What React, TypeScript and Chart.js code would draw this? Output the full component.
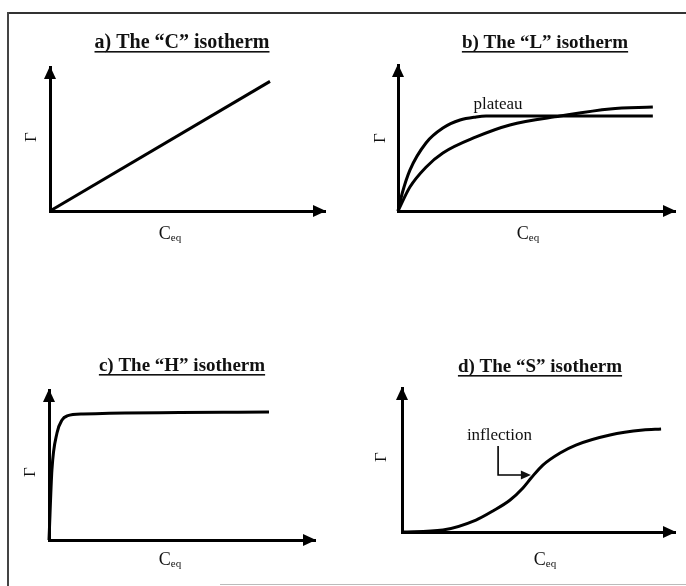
import React, { useEffect, useRef } from "react";
import { Chart, registerables } from "chart.js";

Chart.register(...registerables);

const SERIF = '"Liberation Serif", "Times New Roman", serif';

// ---- data (x = C_eq, y = Γ, arbitrary units 0..100) ----
// a) "C" isotherm
const cX = [0, 80];
const cY = [0, 90];
// b) "L" isotherm: curve with plateau, and gradual curve
const lPlateauX = [0, 1.5, 4.3, 10.1, 16.2, 22.4, 28.2, 31.8, 60, 92];
const lPlateauY = [0, 12, 28, 46.6, 56.8, 62.3, 64.4, 65, 65, 65];
const lGradualX = [0, 4.3, 10.1, 16.2, 28.2, 40.4, 58.5, 76.5, 92];
const lGradualY = [0, 16.4, 30, 39.7, 50.7, 58.9, 65, 69.9, 71.2];
// c) "H" isotherm
const hX = [0, 1.1, 3.0, 4.9, 6.8, 12.8, 82.7];
const hY = [0, 46.7, 71.3, 80, 82.7, 84, 85.3];
// d) "S" isotherm
const sX = [0, 15, 27.1, 33.3, 39.6, 44.3, 47.3, 51.6, 57.9, 63.7, 76.2, 88.3, 94.9];
const sY = [0, 1.4, 8.3, 14.6, 22.2, 30.6, 37.5, 46.5, 54.9, 60.4, 67.4, 70.8, 71.5];

const titles = [
  "a) The \u201CC\u201D isotherm",
  "b) The \u201CL\u201D isotherm",
  "c) The \u201CH\u201D isotherm",
  "d) The \u201CS\u201D isotherm",
];
const yLabel = "\u0393";
const xLabelMain = "C";
const xLabelSub = "eq";
const plateauLabel = "plateau";
const inflectionLabel = "inflection";

type Note = { text: string; x: number; y: number };
type Arrow = { x: number; y1: number; y2: number; x2: number };

type Panel = {
  canvas: { l: number; t: number; w: number; h: number };
  area: { l: number; t: number; r: number; b: number };
  title: string;
  titleSize: number;
  titleX: number;
  titleY: number;
  gamma: { x: number; y: number };
  ceq: { x: number; y: number };
  series: { xs: number[]; ys: number[] }[];
  notes: Note[];
  arrow?: Arrow;
};

const panels: Panel[] = [
  {
    canvas: { l: 10, t: 15, w: 333, h: 270 },
    area: { l: 50, t: 67, r: 325, b: 211 },
    title: titles[0],
    titleSize: 20,
    titleX: 182,
    titleY: 48,
    gamma: { x: 32, y: 137 },
    ceq: { x: 170, y: 239 },
    series: [{ xs: cX, ys: cY }],
    notes: [],
  },
  {
    canvas: { l: 343, t: 15, w: 343, h: 270 },
    area: { l: 398, t: 65, r: 675, b: 211 },
    title: titles[1],
    titleSize: 19,
    titleX: 545,
    titleY: 48,
    gamma: { x: 381, y: 138 },
    ceq: { x: 528, y: 239 },
    series: [
      { xs: lPlateauX, ys: lPlateauY },
      { xs: lGradualX, ys: lGradualY },
    ],
    notes: [{ text: plateauLabel, x: 36.1, y: 73 }],
  },
  {
    canvas: { l: 10, t: 300, w: 333, h: 280 },
    area: { l: 49, t: 390, r: 315, b: 540 },
    title: titles[2],
    titleSize: 19,
    titleX: 182,
    titleY: 371,
    gamma: { x: 31, y: 472 },
    ceq: { x: 170, y: 565 },
    series: [{ xs: hX, ys: hY }],
    notes: [],
  },
  {
    canvas: { l: 343, t: 300, w: 343, h: 280 },
    area: { l: 402, t: 388, r: 675, b: 532 },
    title: titles[3],
    titleSize: 19,
    titleX: 540,
    titleY: 372,
    gamma: { x: 382, y: 457 },
    ceq: { x: 545, y: 565 },
    series: [{ xs: sX, ys: sY }],
    notes: [{ text: inflectionLabel, x: 35.7, y: 66.7 }],
    arrow: { x: 35.2, y1: 59.7, y2: 39.6, x2: 47.2 },
  },
];

function PanelChart({ p }: { p: Panel }) {
  const ref = useRef<HTMLCanvasElement | null>(null);
  useEffect(() => {
    if (!ref.current) return;
    const ox = p.canvas.l;
    const oy = p.canvas.t;
    const decor = {
      id: "decor",
      afterDraw(chart: any) {
        const ctx = chart.ctx as CanvasRenderingContext2D;
        const { left, right, top, bottom } = chart.chartArea;
        const xs = chart.scales.x;
        const ys = chart.scales.y;
        ctx.save();
        ctx.fillStyle = "#000";
        ctx.strokeStyle = "#000";
        // arrowheads
        ctx.beginPath();
        ctx.moveTo(right + 1, bottom);
        ctx.lineTo(right - 12, bottom - 6);
        ctx.lineTo(right - 12, bottom + 6);
        ctx.closePath();
        ctx.fill();
        ctx.beginPath();
        ctx.moveTo(left, top - 1);
        ctx.lineTo(left - 6, top + 12);
        ctx.lineTo(left + 6, top + 12);
        ctx.closePath();
        ctx.fill();
        // title (underlined)
        ctx.font = `bold ${p.titleSize}px ${SERIF}`;
        ctx.textAlign = "center";
        ctx.textBaseline = "alphabetic";
        const tx = p.titleX - ox;
        const ty = p.titleY - oy;
        ctx.fillStyle = "#111";
        ctx.fillText(p.title, tx, ty);
        const tw = ctx.measureText(p.title).width;
        ctx.fillRect(tx - tw / 2, ty + 3, tw, 1.6);
        // y label Γ (rotated)
        ctx.save();
        ctx.translate(p.gamma.x - ox, p.gamma.y - oy);
        ctx.rotate(-Math.PI / 2);
        ctx.font = `17px ${SERIF}`;
        ctx.textAlign = "center";
        ctx.textBaseline = "middle";
        ctx.fillText(yLabel, 0, 0);
        ctx.restore();
        // x label C_eq
        ctx.font = `18px ${SERIF}`;
        const wC = ctx.measureText(xLabelMain).width;
        ctx.font = `11px ${SERIF}`;
        const wE = ctx.measureText(xLabelSub).width;
        const cx0 = p.ceq.x - ox - (wC + wE) / 2;
        const cy0 = p.ceq.y - oy;
        ctx.textAlign = "left";
        ctx.textBaseline = "alphabetic";
        ctx.font = `18px ${SERIF}`;
        ctx.fillText(xLabelMain, cx0, cy0);
        ctx.font = `11px ${SERIF}`;
        ctx.fillText(xLabelSub, cx0 + wC, cy0 + 2);
        // notes
        ctx.font = `17px ${SERIF}`;
        ctx.textAlign = "center";
        ctx.textBaseline = "middle";
        for (const n of p.notes) {
          ctx.fillText(n.text, xs.getPixelForValue(n.x), ys.getPixelForValue(n.y));
        }
        if (p.arrow) {
          const a = p.arrow;
          const ax = xs.getPixelForValue(a.x);
          const ay1 = ys.getPixelForValue(a.y1);
          const ay2 = ys.getPixelForValue(a.y2);
          const ax2 = xs.getPixelForValue(a.x2);
          ctx.lineWidth = 1.6;
          ctx.beginPath();
          ctx.moveTo(ax, ay1);
          ctx.lineTo(ax, ay2);
          ctx.lineTo(ax2 - 8, ay2);
          ctx.stroke();
          ctx.beginPath();
          ctx.moveTo(ax2, ay2);
          ctx.lineTo(ax2 - 10, ay2 - 4.5);
          ctx.lineTo(ax2 - 10, ay2 + 4.5);
          ctx.closePath();
          ctx.fill();
        }
        ctx.restore();
      },
    };
    const scaleOpts = {
      type: "linear" as const,
      min: 0,
      max: 100,
      ticks: { display: false },
      grid: { display: false, drawTicks: false },
      border: { display: true, color: "#000", width: 3 },
    };
    const chart = new Chart(ref.current, {
      type: "scatter",
      data: {
        datasets: p.series.map((s) => ({
          data: s.xs.map((x, i) => ({ x, y: s.ys[i] })),
          showLine: true,
          borderColor: "#000",
          borderWidth: 3,
          pointRadius: 0,
          cubicInterpolationMode: "monotone" as const,
          clip: false as any,
          fill: false,
        })),
      },
      options: {
        animation: false,
        responsive: false,
        devicePixelRatio: 1,
        events: [],
        layout: {
          padding: {
            left: p.area.l - ox,
            top: p.area.t - oy,
            right: ox + p.canvas.w - p.area.r,
            bottom: oy + p.canvas.h - p.area.b,
          },
        },
        scales: { x: scaleOpts, y: scaleOpts },
        plugins: {
          legend: { display: false },
          tooltip: { enabled: false },
          title: { display: false },
        },
      },
      plugins: [decor],
    });
    return () => chart.destroy();
  }, [p]);
  return (
    <canvas
      ref={ref}
      width={p.canvas.w}
      height={p.canvas.h}
      style={{
        position: "absolute",
        left: p.canvas.l,
        top: p.canvas.t,
        width: p.canvas.w,
        height: p.canvas.h,
      }}
    />
  );
}

export default function App() {
  return (
    <div
      style={{
        position: "absolute",
        left: 0,
        top: 0,
        width: 686,
        height: 586,
        background: "#fff",
        overflow: "hidden",
      }}
    >
      <div style={{ position: "absolute", left: 8, top: 12, width: 678, height: 2, background: "#333" }} />
      <div style={{ position: "absolute", left: 7, top: 12, width: 2, height: 574, background: "#444" }} />
      <div style={{ position: "absolute", left: 220, top: 584, width: 466, height: 1, background: "#bbb" }} />
      {panels.map((p, i) => (
        <PanelChart key={i} p={p} />
      ))}
    </div>
  );
}
